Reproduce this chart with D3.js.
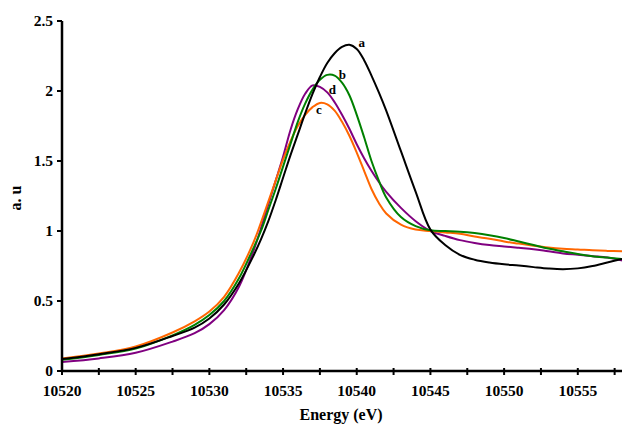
<!DOCTYPE html>
<html>
<head>
<meta charset="utf-8">
<script src="https://cdn.jsdelivr.net/npm/d3@7"></script>
<style>
  body { margin: 0; background: #fff; }
</style>
</head>
<body>
<div id="chart"></div>
<script>
const energy = [10520, 10522.5, 10525, 10527.5, 10529, 10530, 10531, 10532, 10533, 10533.5,
  10534, 10534.5, 10535, 10535.5, 10536, 10536.5, 10537, 10537.5, 10538, 10538.5,
  10539, 10539.5, 10540, 10540.5, 10541, 10541.5, 10542, 10543, 10544, 10545,
  10546, 10547, 10548, 10549, 10550, 10551, 10552, 10553, 10554, 10555, 10556, 10557, 10558];

const seriesA = [0.085, 0.12, 0.165, 0.25, 0.31, 0.375, 0.475, 0.625, 0.825, 0.94,
  1.07, 1.22, 1.38, 1.54, 1.69, 1.84, 1.98, 2.10, 2.20, 2.27,
  2.315, 2.33, 2.30, 2.22, 2.11, 1.99, 1.86, 1.57, 1.28, 1.01,
  0.90, 0.83, 0.795, 0.775, 0.762, 0.753, 0.742, 0.732, 0.727, 0.733, 0.75, 0.775, 0.80];

const seriesB = [0.08, 0.115, 0.16, 0.255, 0.33, 0.40, 0.50, 0.66, 0.88, 1.0,
  1.15, 1.30, 1.46, 1.62, 1.78, 1.91, 2.01, 2.08, 2.115, 2.11,
  2.06, 1.97, 1.83, 1.67, 1.50, 1.36, 1.24, 1.10, 1.035, 1.005,
  1.0, 0.995, 0.985, 0.97, 0.95, 0.925, 0.90, 0.875, 0.855, 0.835, 0.82, 0.81, 0.80];

const seriesC = [0.09, 0.125, 0.175, 0.275, 0.355, 0.425, 0.53, 0.70, 0.92, 1.06,
  1.21, 1.36, 1.51, 1.64, 1.75, 1.83, 1.885, 1.915, 1.905, 1.86,
  1.78, 1.68, 1.56, 1.43, 1.30, 1.20, 1.125, 1.045, 1.01, 1.0,
  0.99, 0.98, 0.96, 0.945, 0.925, 0.91, 0.895, 0.882, 0.873, 0.868, 0.862, 0.858, 0.855];

const seriesD = [0.065, 0.09, 0.13, 0.21, 0.27, 0.335, 0.435, 0.60, 0.86, 1.02,
  1.19, 1.36, 1.53, 1.72, 1.87, 1.98, 2.04, 2.03, 1.99, 1.92,
  1.83, 1.73, 1.62, 1.52, 1.43, 1.35, 1.28, 1.165, 1.07, 1.0,
  0.965, 0.935, 0.915, 0.90, 0.89, 0.88, 0.87, 0.855, 0.84, 0.83, 0.82, 0.81, 0.79];

const seriesNames = ["a", "b", "c", "d"];
const seriesColors = ["#000000", "#008000", "#ff6600", "#800080"];
// label anchors in data units (energy, a.u.)
const labelEnergy = [10540.34, 10539.02, 10537.44, 10538.34];
const labelValue = [2.345, 2.121, 1.871, 2.012];

const xTicks = [10520, 10525, 10530, 10535, 10540, 10545, 10550, 10555];
const xMinorTicks = d3.range(10520, 10558.1, 2.5);
const yTicks = [0, 0.5, 1, 1.5, 2, 2.5];

const width = 622, height = 428;
const margin = {top: 21, right: 0, bottom: 57, left: 62};
const font = "'Liberation Serif', 'Times New Roman', Times, serif";

const svg = d3.select("#chart").append("svg")
  .attr("width", width)
  .attr("height", height)
  .attr("font-family", font)
  .attr("font-weight", "bold");

const x = d3.scaleLinear().domain([10520, 10558]).range([margin.left, width - margin.right]);
const y = d3.scaleLinear().domain([0, 2.5]).range([height - margin.bottom, margin.top]);

const allSeries = [seriesA, seriesB, seriesC, seriesD];

const line = d3.line()
  .x(d => x(d[0]))
  .y(d => y(d[1]))
  .curve(d3.curveCatmullRom.alpha(0.5));

// d, c, b underneath, a on top
[3, 2, 1, 0].forEach(i => {
  svg.append("path")
    .datum(energy.map((e, j) => [e, allSeries[i][j]]))
    .attr("fill", "none")
    .attr("stroke", seriesColors[i])
    .attr("stroke-width", 2)
    .attr("d", line);
});

// x axis
const xAxis = svg.append("g").attr("transform", `translate(0,${y(0)})`);
xAxis.append("line")
  .attr("x1", x(10520)).attr("x2", width)
  .attr("stroke", "#000").attr("stroke-width", 2.5);
xAxis.selectAll(".tick")
  .data(xMinorTicks)
  .enter().append("line")
  .attr("x1", d => x(d)).attr("x2", d => x(d))
  .attr("y1", -3).attr("y2", 4)
  .attr("stroke", "#000").attr("stroke-width", 2);
xAxis.selectAll(".label")
  .data(xTicks)
  .enter().append("text")
  .attr("x", d => x(d))
  .attr("y", 25)
  .attr("text-anchor", "middle")
  .style("font-size", "15.5px")
  .text(d => d);

// y axis
const yAxis = svg.append("g").attr("transform", `translate(${x(10520)},0)`);
yAxis.append("line")
  .attr("y1", y(2.5)).attr("y2", y(0))
  .attr("stroke", "#000").attr("stroke-width", 2.5);
yAxis.selectAll(".tick")
  .data(yTicks)
  .enter().append("line")
  .attr("x1", -5).attr("x2", 0)
  .attr("y1", d => y(d)).attr("y2", d => y(d))
  .attr("stroke", "#000").attr("stroke-width", 2);
yAxis.selectAll(".label")
  .data(yTicks)
  .enter().append("text")
  .attr("x", -9)
  .attr("y", d => y(d))
  .attr("dy", "0.35em")
  .attr("text-anchor", "end")
  .style("font-size", "15.5px")
  .text(d => d);

// axis titles
svg.append("text")
  .attr("x", 341)
  .attr("y", 420)
  .attr("text-anchor", "middle")
  .style("font-size", "16px")
  .text("Energy (eV)");

svg.append("text")
  .attr("transform", "rotate(-90)")
  .attr("x", -198)
  .attr("y", 21)
  .attr("text-anchor", "middle")
  .style("font-size", "16px")
  .text("a. u");

// series labels
svg.selectAll(".series-label")
  .data(seriesNames)
  .enter().append("text")
  .attr("x", (d, i) => x(labelEnergy[i]))
  .attr("y", (d, i) => y(labelValue[i]))
  .attr("dy", "0.35em")
  .attr("text-anchor", "middle")
  .style("font-size", "13px")
  .text(d => d);
</script>
</body>
</html>
